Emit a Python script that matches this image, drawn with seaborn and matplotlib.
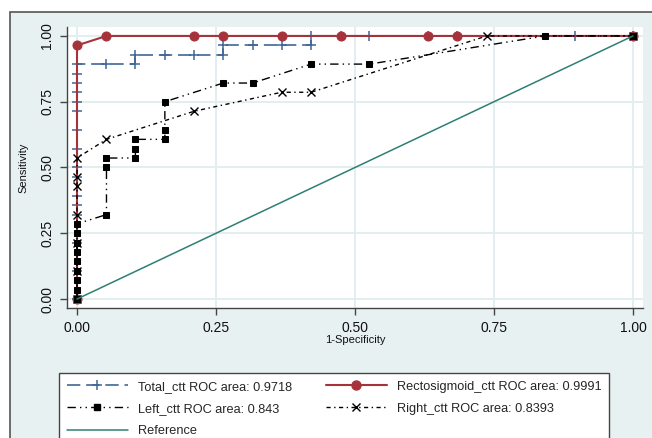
import matplotlib
matplotlib.use("Agg")
import matplotlib.pyplot as plt
import seaborn as sns
from matplotlib.lines import Line2D
from matplotlib.patches import Rectangle

# ROC points (1-Specificity, Sensitivity)
total_x = [0, 0, 0, 0, 0, 0, 0, 0, 0, 0, 0, 0, 0, 0, 0, 0,
           0.053, 0.105, 0.105, 0.158, 0.211, 0.263, 0.263, 0.316, 0.368, 0.421,
           0.421, 0.474, 0.526, 0.632, 0.684, 0.895, 1.0]
total_y = [0, 0.107, 0.214, 0.321, 0.357, 0.393, 0.464, 0.5, 0.571, 0.643, 0.714,
           0.75, 0.786, 0.821, 0.857, 0.893,
           0.893, 0.893, 0.929, 0.929, 0.929, 0.929, 0.964, 0.964, 0.964, 0.964,
           1.0, 1.0, 1.0, 1.0, 1.0, 1.0, 1.0]

recto_x = [0, 0, 0.053, 0.211, 0.263, 0.368, 0.474, 0.632, 0.684, 1.0]
recto_y = [0, 0.964, 1.0, 1.0, 1.0, 1.0, 1.0, 1.0, 1.0, 1.0]

left_x = [0, 0, 0, 0, 0, 0, 0, 0, 0,
          0.053, 0.053, 0.053, 0.105, 0.105, 0.105, 0.158, 0.158, 0.158,
          0.263, 0.316, 0.421, 0.526, 0.842, 1.0]
left_y = [0, 0.036, 0.071, 0.107, 0.143, 0.179, 0.214, 0.25, 0.286,
          0.321, 0.5, 0.536, 0.536, 0.571, 0.607, 0.607, 0.643, 0.75,
          0.821, 0.821, 0.893, 0.893, 1.0, 1.0]

right_x = [0, 0, 0, 0, 0, 0, 0, 0.053, 0.211, 0.368, 0.421, 0.737, 1.0]
right_y = [0, 0.107, 0.214, 0.321, 0.429, 0.464, 0.536, 0.607, 0.714, 0.786, 0.786, 1.0, 1.0]

ref_x = [0, 1]
ref_y = [0, 1]

labels = ["Total_ctt ROC area: 0.9718", "Rectosigmoid_ctt ROC area: 0.9991",
          "Left_ctt ROC area: 0.843", "Right_ctt ROC area: 0.8393", "Reference"]
ticks = [0.0, 0.25, 0.5, 0.75, 1.0]
tick_labels = ["0.00", "0.25", "0.50", "0.75", "1.00"]

sns.set_theme(style="white")
plt.rcParams["font.family"] = ["Liberation Sans", "DejaVu Sans"]

bg = "#e8f1f2"
blue = "#3f6796"
red = "#a6333b"
teal = "#2f7f74"
W, H = 652, 438

fig = plt.figure(figsize=(W / 100, H / 100), dpi=100, facecolor="white")
fig.patches.append(Rectangle((10 / W, -0.1), 1.2, 1 - 12 / H + 0.1, transform=fig.transFigure,
                             facecolor=bg, edgecolor="#555555", linewidth=1.2, zorder=-5))

ax = fig.add_axes([67 / W, 1 - 308 / H, 576 / W, 281 / H])
ax.set_zorder(2)
ax.set_facecolor("white")

sns.lineplot(x=total_x, y=total_y, ax=ax, sort=False, estimator=None, color=blue,
             linewidth=1.2, linestyle=(0, (8, 3.5)), marker="+", markersize=7.5,
             markeredgewidth=1.1, markeredgecolor=blue)
sns.lineplot(x=recto_x, y=recto_y, ax=ax, sort=False, estimator=None, color=red,
             linewidth=1.5, linestyle="-", marker="o", markersize=6.5,
             markeredgecolor=red, markerfacecolor=red)
sns.lineplot(x=left_x, y=left_y, ax=ax, sort=False, estimator=None, color="black",
             linewidth=1.0, linestyle=(0, (6, 3, 1, 3, 1, 3)), marker="s", markersize=5,
             markeredgecolor="black", markerfacecolor="black")
sns.lineplot(x=right_x, y=right_y, ax=ax, sort=False, estimator=None, color="black",
             linewidth=1.0, linestyle=(0, (3, 2.5, 1, 2.5)), marker="x", markersize=5.5,
             markeredgewidth=1.0, markeredgecolor="black")
sns.lineplot(x=ref_x, y=ref_y, ax=ax, sort=False, estimator=None, color=teal,
             linewidth=1.1, linestyle="-")

ax.set_xlim(-0.018, 1.018)
ax.set_ylim(-0.034, 1.034)
ax.set_xticks(ticks)
ax.set_xticklabels(tick_labels)
ax.set_yticks(ticks)
ax.set_yticklabels(tick_labels, rotation=90, va="center")
ax.grid(True, color="#e3eef0", linewidth=1.4)
ax.set_axisbelow(True)
for s in ["top", "right"]:
    ax.spines[s].set_visible(False)
for s in ["left", "bottom"]:
    ax.spines[s].set_color("#444444")
    ax.spines[s].set_linewidth(1.0)
ax.tick_params(axis="both", direction="out", length=5, width=1.0, color="#444444",
               labelsize=10, labelcolor="#111111", pad=4, left=True, bottom=True)

ax.set_xlabel("1-Specificity", fontsize=8, color="#111111")
ax.set_ylabel("Sensitivity", fontsize=8, color="#111111")
ax.xaxis.set_label_coords(0.5, (308 - 340) / 281)
ax.xaxis.label.set_va("center")
ax.yaxis.set_label_coords((23 - 67) / 576, 0.5)
ax.yaxis.label.set_va("center")

handles = [
    Line2D([], [], color=blue, lw=1.2, ls=(0, (8, 3.5)), marker="+", ms=7.5, mew=1.1),
    Line2D([], [], color="black", lw=1.0, ls=(0, (6, 3, 1, 3, 1, 3)), marker="s", ms=5),
    Line2D([], [], color=teal, lw=1.1),
    Line2D([], [], color=red, lw=1.5, marker="o", ms=6.5),
    Line2D([], [], color="black", lw=1.0, ls=(0, (3, 2.5, 1, 2.5)), marker="x", ms=5.5),
]
order = [labels[0], labels[2], labels[4], labels[1], labels[3]]
leg = fig.legend(handles, order, ncol=2, loc="upper left",
                 bbox_to_anchor=(59 / W, 1 - 373 / H), borderaxespad=0,
                 fontsize=9.2, handlelength=4.8, handletextpad=0.8, labelspacing=0.8,
                 columnspacing=2.6, borderpad=0.6, frameon=True, fancybox=False,
                 edgecolor="#444444", facecolor="white", framealpha=1)
leg.get_frame().set_linewidth(1.0)
leg.set_zorder(3)

fig.savefig("out.png", dpi=100, facecolor=fig.get_facecolor())
